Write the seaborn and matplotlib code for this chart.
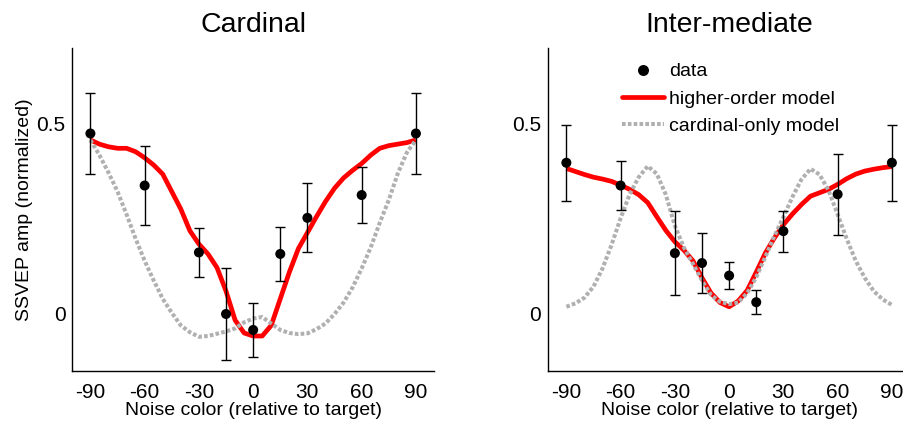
import numpy as np
import pandas as pd
import matplotlib
matplotlib.use("Agg")
import matplotlib.pyplot as plt
import seaborn as sns
from matplotlib.lines import Line2D

# ---------------- data ----------------
data_x = [-90, -60, -30, -15, 0, 15, 30, 60, 90]
card_mean = [0.475, 0.338, 0.162, 0.000, -0.042, 0.158, 0.253, 0.313, 0.475]
card_err = [0.107, 0.105, 0.065, 0.122, 0.070, 0.072, 0.091, 0.074, 0.107]
inter_mean = [0.398, 0.338, 0.160, 0.134, 0.101, 0.031, 0.218, 0.315, 0.398]
inter_err = [0.100, 0.065, 0.110, 0.080, 0.035, 0.031, 0.054, 0.107, 0.100]

model_x = list(range(-90, 91, 5))
card_higher = [0.458, 0.447, 0.440, 0.436, 0.436, 0.427, 0.411, 0.392, 0.368, 0.322,
               0.276, 0.219, 0.184, 0.158, 0.122, 0.060, -0.016, -0.050, -0.058, -0.058,
               -0.030, 0.040, 0.110, 0.172, 0.214, 0.256, 0.296, 0.331, 0.358, 0.378,
               0.396, 0.418, 0.436, 0.443, 0.447, 0.451, 0.458]
card_cardinal = [0.458, 0.418, 0.372, 0.322, 0.262, 0.198, 0.140, 0.088, 0.040, 0.003,
                 -0.030, -0.048, -0.060, -0.058, -0.052, -0.046, -0.038, -0.022, -0.012, -0.008,
                 -0.025, -0.042, -0.050, -0.053, -0.051, -0.040, -0.025, 0.000, 0.030, 0.070,
                 0.120, 0.175, 0.240, 0.300, 0.370, 0.425, 0.458]
inter_higher = [0.383, 0.375, 0.367, 0.360, 0.355, 0.349, 0.339, 0.328, 0.314, 0.293,
                0.256, 0.220, 0.190, 0.168, 0.140, 0.095, 0.055, 0.030, 0.019, 0.034,
                0.062, 0.110, 0.160, 0.200, 0.235, 0.263, 0.288, 0.310, 0.319, 0.328,
                0.341, 0.356, 0.368, 0.376, 0.381, 0.385, 0.388]
inter_cardinal = [0.019, 0.028, 0.043, 0.072, 0.120, 0.182, 0.252, 0.315, 0.360, 0.389,
                  0.369, 0.314, 0.232, 0.175, 0.132, 0.088, 0.050, 0.032, 0.026, 0.030,
                  0.055, 0.097, 0.150, 0.205, 0.255, 0.308, 0.354, 0.382, 0.367, 0.325,
                  0.262, 0.198, 0.140, 0.095, 0.060, 0.038, 0.024]

titles = ["Cardinal", "Inter-mediate"]
xticks = [-90, -60, -30, 0, 30, 60, 90]
xticklabels = ["-90", "-60", "-30", "0", "30", "60", "90"]
yticks = [0, 0.5]
yticklabels = ["0", "0.5"]
xlabel = "Noise color (relative to target)"
ylabel = "SSVEP amp (normalized)"
legend_labels = ["data", "higher-order model", "cardinal-only model"]

# ---------------- style ----------------
sns.set_theme(style="white")
plt.rcParams["font.family"] = ["Liberation Sans", "DejaVu Sans"]
plt.rcParams["text.color"] = "black"
plt.rcParams["axes.labelcolor"] = "black"
plt.rcParams["xtick.color"] = "black"
plt.rcParams["ytick.color"] = "black"

fig = plt.figure(figsize=(9.04, 4.22), dpi=100)
ax_l = fig.add_axes([0.0800, 0.1209, 0.4001, 0.7654])
ax_r = fig.add_axes([0.6065, 0.1209, 0.4001, 0.7654])

RED = "#ff0000"
GRAY = "#b0b0b0"
GRAY_LW = 2.9
GRAY_DASH = [0.9, 0.55]

panels = [
    (ax_l, card_mean, card_err, card_higher, card_cardinal),
    (ax_r, inter_mean, inter_err, inter_higher, inter_cardinal),
]

for i, (ax, mean, err, higher, cardinal) in enumerate(panels):
    df = pd.DataFrame({"x": model_x, "higher": higher, "cardinal": cardinal})
    sns.lineplot(data=df, x="x", y="higher", ax=ax, color=RED, lw=3.4,
                 solid_capstyle="butt", zorder=2)
    sns.lineplot(data=df, x="x", y="cardinal", ax=ax, color=GRAY, lw=GRAY_LW,
                 zorder=3)
    ax.lines[-1].set_dashes(GRAY_DASH)
    ax.lines[-1].set_dash_capstyle("butt")
    ax.errorbar(data_x, mean, yerr=err, fmt="none", ecolor="black",
                elinewidth=1.0, capsize=3.3, capthick=1.0, zorder=4)
    sns.scatterplot(x=data_x, y=mean, ax=ax, color="black", s=52,
                    edgecolor="none", zorder=5)

    ax.set_xlim(-100, 100)
    ax.set_ylim(-0.15, 0.70)
    ax.set_xticks(xticks)
    ax.set_xticklabels(xticklabels)
    ax.set_yticks(yticks)
    ax.set_yticklabels(yticklabels)
    ax.tick_params(axis="both", direction="in", length=3, width=0.9,
                   labelsize=15, colors="black", pad=5)
    ax.tick_params(axis="x", pad=8.5)
    for s in ["top", "right"]:
        ax.spines[s].set_visible(False)
    for s in ["left", "bottom"]:
        ax.spines[s].set_color("black")
        ax.spines[s].set_linewidth(1.0)
    ax.set_xlabel(xlabel, fontsize=14, labelpad=0, color="black")
    ax.set_ylabel(ylabel if i == 0 else "", fontsize=14, labelpad=2, color="black")
    ax.set_title(titles[i], fontsize=20.5, pad=11.5, color="black")

handles = [
    Line2D([], [], marker="o", ls="none", color="black", markersize=6.9),
    Line2D([], [], color=RED, lw=3.4),
    Line2D([], [], color=GRAY, lw=GRAY_LW, dashes=GRAY_DASH, dash_capstyle="butt"),
]
ax_r.legend(handles, legend_labels, loc="upper left", bbox_to_anchor=(0.203, 0.954),
            frameon=False, fontsize=14, handlelength=2.2, handletextpad=0.25,
            labelspacing=0.5, borderpad=0, borderaxespad=0)

fig.savefig("out.png", dpi=100)
